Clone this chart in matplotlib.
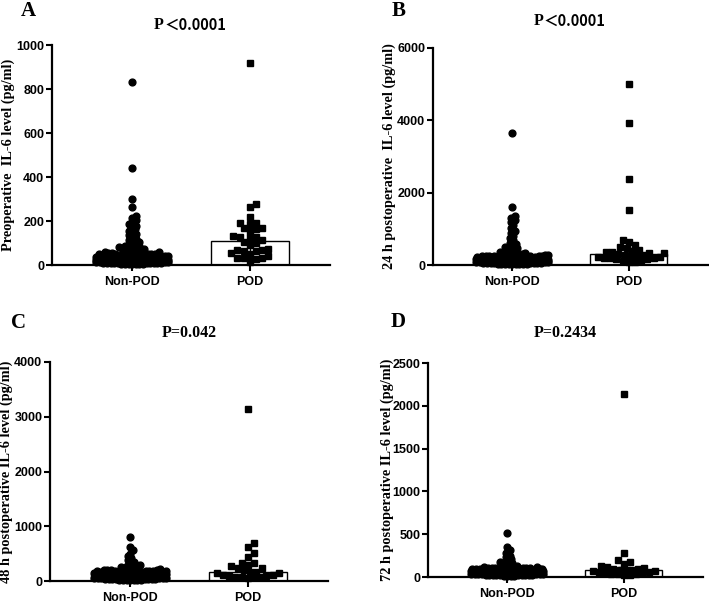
import numpy as np
import matplotlib
matplotlib.use("Agg")
import matplotlib.pyplot as plt

W, H = 709, 603

categories = ["Non-POD", "POD"]

# panel A: preoperative IL-6 (pg/ml)
a_nonpod = [830, 440, 300, 265, 225, 215, 205, 195, 185, 178, 170, 162, 155, 148,
            140, 135, 128, 120, 115, 110, 105, 100, 96, 92, 88, 85, 82, 80, 78, 75,
            72, 70, 68, 65, 62, 60, 58, 56, 54, 52, 50, 48, 46, 45, 44, 42, 41, 40,
            39, 38, 37, 36, 35, 34, 33, 32, 31, 30, 30, 29, 28, 28, 27, 26, 26, 25,
            25, 24, 24, 23, 22, 22, 21, 20, 20, 19, 18, 18, 17, 16, 15, 15, 14, 13,
            12, 12, 11, 10, 10, 9, 8, 8, 7, 6, 5, 5, 4, 3,
            58, 55, 52, 50, 48, 46, 44, 43, 42, 40, 38, 37, 36, 35, 34, 33, 32, 31,
            30, 29, 28, 27, 26, 25, 24, 23, 22, 21, 20, 19, 18, 17, 16, 14, 12, 11,
            9, 7, 6, 4]
a_pod = [917, 277, 265, 220, 192, 189, 186, 170, 167, 162, 152, 133, 129, 126, 121,
         114, 103, 98, 91, 71, 68, 68, 65, 65, 53, 45, 41, 33, 33, 30, 26, 15]

# panel B: 24 h postoperative
b_nonpod = [3640, 1610, 1350, 1300, 1250, 1180, 1100, 1020, 950, 880, 800, 740, 680,
            620, 580, 540, 500, 470, 440, 410, 380, 360, 340, 320, 300, 290, 280, 270,
            260, 250, 245, 240, 235, 230, 225, 220, 215, 210, 205, 200, 195, 190, 185,
            180, 175, 170, 165, 160, 155, 150, 145, 140, 135, 130, 125, 120, 115, 110,
            105, 100, 95, 90, 85, 80, 75, 70, 65, 60, 55, 50, 45, 40, 35, 30, 25, 20,
            290, 270, 260, 250, 240, 230, 220, 210, 200, 190, 180, 170, 160, 150, 140,
            130, 120, 110, 100, 90, 80, 70, 60, 50, 40, 30, 280, 255, 235, 215, 195,
            175, 155, 135, 115, 95, 75, 55, 35, 25]
b_pod = [5000, 3920, 2370, 1510, 690, 630, 560, 500, 460, 415, 395, 370, 365, 340,
         320, 300, 280, 275, 250, 230, 230, 210, 185, 180, 180, 160, 155, 140, 120,
         95, 90]

# panel C: 48 h postoperative
c_nonpod = [810, 620, 560, 500, 450, 420, 380, 350, 320, 300, 290, 280, 260, 250,
            240, 230, 220, 210, 200, 195, 190, 185, 180, 175, 170, 165, 160, 155, 150,
            145, 140, 135, 130, 125, 120, 115, 110, 105, 100, 95, 90, 85, 80, 75, 70,
            65, 60, 55, 50, 45, 40, 35, 30, 25, 20, 15, 10,
            210, 195, 185, 175, 165, 155, 145, 135, 125, 115, 105, 95, 85, 75, 65, 55,
            45, 35, 25, 15, 200, 180, 160, 140, 120, 100, 80, 60, 40, 20, 190, 170,
            150, 130, 110, 90, 70, 50, 30]
c_pod = [3140, 690, 615, 505, 445, 325, 320, 295, 265, 235, 230, 200, 170, 160, 140,
         140, 110, 110, 95, 90, 80, 80, 75, 70, 60]

# panel D: 72 h postoperative
d_nonpod = [510, 350, 310, 280, 250, 230, 210, 190, 175, 160, 150, 140, 130, 120, 115,
            110, 105, 100, 98, 95, 92, 90, 88, 85, 82, 80, 78, 75, 72, 70, 68, 65, 62,
            60, 58, 55, 52, 50, 48, 45, 42, 40, 38, 35, 32, 30, 28, 25, 22, 20, 18, 15,
            12, 10,
            110, 105, 100, 95, 90, 85, 80, 75, 70, 65, 60, 55, 50, 45, 40, 35, 30, 25,
            20, 15, 108, 98, 88, 78, 68, 58, 48, 38, 28, 18, 102, 92, 82, 72, 62, 52,
            42, 32, 22]
d_pod = [2140, 275, 200, 175, 150, 130, 120, 100, 95, 90, 85, 80, 75, 70, 65, 60, 55,
         50, 45, 40, 35, 30, 25, 20]

panels = [
    dict(letter="A", nonpod=a_nonpod, pod=a_pod, ymax=1000, step=200,
         ylabel="Preoperative  IL-6 level (pg/ml)", p="P＜0.0001",
         box=(52, 45, 330, 265), title_y=25, letter_xy=(28, 11), label_x=8),
    dict(letter="B", nonpod=b_nonpod, pod=b_pod, ymax=6000, step=2000,
         ylabel="24 h postoperative  IL-6 level (pg/ml)", p="P＜0.0001",
         box=(433, 48, 708, 265), title_y=21, letter_xy=(399, 11), label_x=389),
    dict(letter="C", nonpod=c_nonpod, pod=c_pod, ymax=4000, step=1000,
         ylabel="48 h postoperative IL-6 level (pg/ml)", p="P=0.042",
         box=(50, 362, 328, 581), title_y=333, letter_xy=(19, 323), label_x=6),
    dict(letter="D", nonpod=d_nonpod, pod=d_pod, ymax=2500, step=500,
         ylabel="72 h postoperative IL-6 level (pg/ml)", p="P=0.2434",
         box=(428, 363, 703, 577), title_y=333, letter_xy=(398, 322), label_x=387),
]

SERIF = "Liberation Serif"
SANS = "Liberation Sans"
XLIM = (-0.68, 1.68)
BAR_W = 0.66


def swarm(vals, ymax, h_px, unit_px, coll_px, half_px):
    # simple beeswarm in pixel space, returns x offsets in data units
    y = np.asarray(vals, float) / ymax * h_px
    order = np.argsort(y)
    step = coll_px / 3.0
    n = int(half_px / step)
    cands = [0.0]
    for k in range(1, n + 1):
        cands += [k * step, -k * step]
    px, py = [], []
    off = np.zeros(len(y))
    for i in order:
        best_c, best_d = 0.0, -1
        for c in cands:
            if px:
                dmin = np.min(np.hypot(np.array(px) - c, np.array(py) - y[i]))
            else:
                dmin = np.inf
            if dmin >= coll_px:
                best_c = c
                break
            if dmin > best_d:
                best_d, best_c = dmin, c
        px.append(best_c)
        py.append(y[i])
        off[i] = best_c
    return off / unit_px


fig = plt.figure(figsize=(W / 100, H / 100), dpi=100)

for p in panels:
    l, t, r, b = p["box"]
    ax = fig.add_axes([l / W, (H - b) / H, (r - l) / W, (b - t) / H])
    ax.set_xlim(*XLIM)
    ax.set_ylim(0, p["ymax"])
    unit_px = (r - l) / (XLIM[1] - XLIM[0])
    h_px = b - t

    groups = [(p["nonpod"], "o", 4.9, 3.6), (p["pod"], "s", 4.4, 6.2)]
    for xi, (vals, mk, ms, coll) in enumerate(groups):
        v = np.asarray(vals, float)
        med = np.median(v)
        q1, q3 = np.percentile(v, [25, 75])
        ax.bar(xi, med, width=BAR_W, color="white", edgecolor="black",
               linewidth=1.0, zorder=2)
        offs = swarm(v, p["ymax"], h_px, unit_px, coll, 36)
        ax.plot(xi + offs, v, ls="none", marker=mk, ms=ms,
                color="black", mec="black", clip_on=False, zorder=3)
        ax.errorbar(xi, med, yerr=[[med - q1], [q3 - med]], fmt="none",
                    ecolor="black", elinewidth=1.0, capsize=4, capthick=1.0,
                    zorder=4)

    ax.set_xticks([0, 1])
    ax.set_xticklabels(categories)
    ax.set_yticks(np.arange(0, p["ymax"] + 1, p["step"]))
    for lab in ax.get_xticklabels() + ax.get_yticklabels():
        lab.set_fontfamily(SANS)
        lab.set_fontweight("bold")
        lab.set_fontsize(9)
    ax.tick_params(axis="y", length=4, width=1.5, pad=1.5)
    ax.tick_params(axis="x", length=4.5, width=1.5, pad=3.5)
    for s in ["top", "right"]:
        ax.spines[s].set_visible(False)
    for s in ["left", "bottom"]:
        ax.spines[s].set_linewidth(1.6)

    ax.set_ylabel(p["ylabel"], fontfamily=SERIF, fontweight="bold",
                  fontsize=10.3, va="center")
    ax.yaxis.set_label_coords((p["label_x"] - l) / (r - l), 0.5)

    ty = (H - p["title_y"]) / H
    cx = (l + r) / 2 / W
    if p["p"].startswith("P＜"):
        split = cx - 0.038
        fig.text(split, ty, "P", ha="right", va="center", fontfamily=SERIF,
                 fontweight="bold", fontsize=11.5)
        fig.text(split, ty, p["p"][1:], ha="left", va="center",
                 fontfamily=["Noto Sans CJK SC", "DejaVu Sans"],
                 fontweight="bold", fontsize=10.5)
    else:
        fig.text(cx, ty, p["p"], ha="center", va="center", fontfamily=SERIF,
                 fontweight="bold", fontsize=11.5)

    lx, ly = p["letter_xy"]
    fig.text(lx / W, (H - ly) / H, p["letter"], ha="center", va="center",
             fontfamily=SERIF, fontweight="bold", fontsize=15)

fig.savefig("out.png", dpi=100)
